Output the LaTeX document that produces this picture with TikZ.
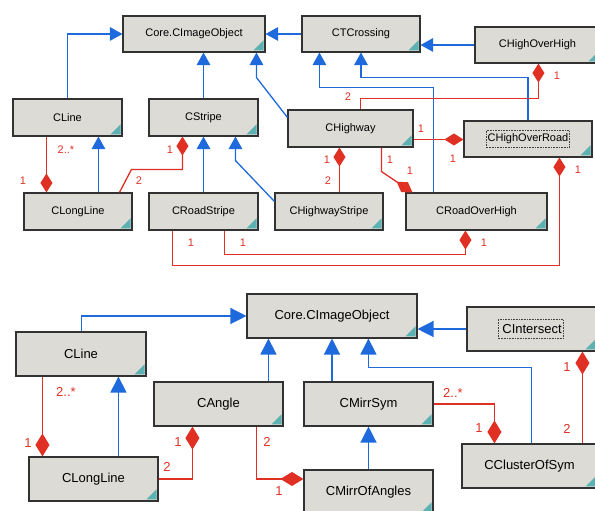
\documentclass[tikz,border=0pt]{standalone}
\usepackage{fontspec}
\setmainfont{Liberation Sans}
\usetikzlibrary{arrows.meta}
\definecolor{umlblue}{RGB}{30,105,220}
\definecolor{umlred}{RGB}{224,48,36}
\definecolor{boxgray}{RGB}{221,219,214}
\definecolor{boxedge}{RGB}{50,50,50}
\definecolor{cornteal}{RGB}{92,178,178}
\tikzset{gen/.style={draw=umlblue, line width=1.3pt, -{Triangle[length=12.5pt,width=13.5pt]}}}
\tikzset{comp/.style={draw=umlred, line width=1.3pt, -{Diamond[length=19pt,width=12pt]}}}

\begin{document}
\begin{tikzpicture}[x=1pt, y=1pt]
\tikzstyle{cls} = [rectangle, draw=boxedge, line width=1.1pt, fill=boxgray, minimum height=37pt, inner sep=2pt, font=\fontsize{11}{13}\selectfont,
  path picture={\fill[cornteal] ([shift={(-1.5pt,1.5pt)}]path picture bounding box.south east) -- ++(-10pt,0pt) -- ++(10pt,10pt) -- cycle;}]
\tikzstyle{mult} = [text=umlred, inner sep=0pt, font=\fontsize{11}{13}\selectfont]
\tikzstyle{focus} = [draw=black!75, densely dotted, line width=0.6pt]

\useasboundingbox (0,0) rectangle (595,511);

% upper diagram
\node [cls, minimum width=142pt, minimum height=36pt] (core) at (194,477) {Core.CImageObject};
\node [cls, minimum width=118pt, minimum height=36pt] (cross) at (361,477) {CTCrossing};
\node [cls, minimum width=125pt, minimum height=36pt] (hoh) at (537.5,466) {CHighOverHigh};
\node [cls, minimum width=109pt] (line) at (67.5,393.5) {CLine};
\node [cls, minimum width=109pt] (stripe) at (203.5,393.5) {CStripe};
\node [cls, minimum width=125pt] (highway) at (350.5,382.5) {CHighway};
\node [cls, minimum width=128pt, minimum height=36pt] (hor) at (528,372) {CHighOverRoad};
\node [cls, minimum width=108pt] (longline) at (78,299.5) {CLongLine};
\node [cls, minimum width=109pt] (roadstripe) at (203.5,299.5) {CRoadStripe};
\node [cls, minimum width=108pt] (hwstripe) at (329,299.5) {CHighwayStripe};
\node [cls, minimum width=141pt] (roh) at (476.5,299.5) {CRoadOverHigh};
\draw [focus] ([shift={(-42pt,-8.5pt)}]hor.center) rectangle ([shift={(41pt,8.5pt)}]hor.center);

% inheritance
\draw [gen] ([xshift=55pt]line.north west) |- (core.west);
\draw [gen] (stripe.north) -- (stripe.north |- core.south);
\draw [gen] ([yshift=-8pt]highway.north west) -- ([xshift=134pt,yshift=-25pt]core.south west) -- ([xshift=134pt]core.south west);
\draw [gen] (cross.west) -- (core.east);
\draw [gen] (hoh.west) -- (hoh.west -| cross.east);
\draw [gen] ([xshift=28pt]roh.north west) |- ([xshift=18pt,yshift=-35pt]cross.south west) -- ([xshift=18pt]cross.south west);
\draw [gen] (hor.north) |- ([yshift=-25pt]cross.south) -- (cross.south);
\draw [gen] ([xshift=75pt]longline.north west) -- ([xshift=75pt]longline.north west |- line.south);
\draw [gen] (roadstripe.north) -- (stripe.south);
\draw [gen] ([yshift=-9pt]hwstripe.north west) -- ([xshift=87pt,yshift=-24pt]stripe.south west) -- ([xshift=87pt]stripe.south west);

% composition
\draw [comp] ([xshift=34pt]line.south west) -- ([xshift=34pt]line.south west |- longline.north);
\node [mult] (m1) at (66,361) {2..*};
\node [mult] (m2) at (23,330) {1};
\draw [comp] ([xshift=96pt]longline.north west) -- ([xshift=108pt,yshift=23pt]longline.north west) -| ([xshift=34pt]stripe.south west);
\node [mult] (m3) at (170,361) {1};
\node [mult] (m4) at (139,330) {2};
\draw [comp] ([xshift=52pt]highway.south west |- hwstripe.north) -- ([xshift=52pt]highway.south west);
\node [mult] (m5) at (327,351) {1};
\node [mult] (m6) at (328,330) {2};
\draw [comp] ([xshift=94pt]highway.south west) -- ([xshift=94pt,yshift=-24pt]highway.south west) -- ([xshift=7pt]roh.north west);
\node [mult] (m7) at (390,351) {1};
\node [mult] (m8) at (410,340) {1};
\draw [comp] ([yshift=-11pt]highway.east) -- ([yshift=-11pt]highway.east -| hor.west);
\node [mult] (m9) at (421,382) {1};
\node [mult] (m10) at (453,352) {1};
\draw [comp] ([xshift=73pt]highway.north west) |- ([xshift=64pt,yshift=-35pt]hoh.south west) -- ([xshift=64pt]hoh.south west);
\node [mult] (m11) at (348,414) {2};
\node [mult] (m12) at (557,435) {1};
\draw [comp] ([xshift=76pt]roadstripe.south west) |- ([xshift=60pt,yshift=-24pt]roh.south west) -- ([xshift=60pt]roh.south west);
\node [mult] (m13) at (243,268) {1};
\node [mult] (m14) at (484,268) {1};
\draw [comp] ([xshift=24pt]roadstripe.south west) |- ([xshift=96pt,yshift=-108pt]hor.south west) -- ([xshift=96pt]hor.south west);
\node [mult] (m15) at (191,268) {1};
\node [mult] (m16) at (578,341) {1};

% lower diagram
\begin{scope}[cls/.append style={minimum height=44pt, font=\fontsize{13}{15}\selectfont},
  mult/.append style={font=\fontsize{13}{15}\selectfont},
  gen/.append style={-{Triangle[length=16pt,width=16pt]}},
  comp/.append style={-{Diamond[length=23pt,width=14pt]}}]
\node [cls, minimum width=170pt] (core2) at (332,195) {Core.CImageObject};
\node [cls, minimum width=130pt] (inter) at (532,182) {CIntersect};
\node [cls, minimum width=130pt] (line2) at (81,157) {CLine};
\node [cls, minimum width=129pt] (angle) at (218.5,107) {CAngle};
\node [cls, minimum width=129pt] (longline2) at (93.5,32) {CLongLine};
\node [cls, minimum width=129pt] (mirr) at (368.5,107) {CMirrSym};
\node [cls, minimum width=129pt] (moa) at (368.5,19) {CMirrOfAngles};
\node [cls, minimum width=135pt] (cluster) at (529.5,45) {CClusterOfSym};
\draw [focus] ([shift={(-34pt,-9.5pt)}]inter.center) rectangle ([shift={(31pt,9.5pt)}]inter.center);

\draw [gen] ([xshift=66pt]line2.north west) |- (core2.west);
\draw [gen] ([xshift=115pt]angle.north west) -- ([xshift=115pt]angle.north west |- core2.south);
\draw [gen] (core2.south |- mirr.north) -- (core2.south);
\draw [gen] ([xshift=70pt]cluster.north west) |- ([xshift=122pt,yshift=-29pt]core2.south west) -- ([xshift=122pt]core2.south west);
\draw [gen] (inter.west) -- (inter.west -| core2.east);
\draw [gen] ([xshift=90pt]longline2.north west) -- ([xshift=90pt]longline2.north west |- line2.south);
\draw [gen] (moa.north) -- (mirr.south);

\draw [comp] ([xshift=27pt]line2.south west) -- ([xshift=27pt]line2.south west |- longline2.north);
\node [mult] (n1) at (66,119) {2..*};
\node [mult] (n2) at (28,68) {1};
\draw [comp] (longline2.east) -| ([xshift=39pt]angle.south west);
\node [mult] (n3) at (178,69) {1};
\node [mult] (n4) at (167,44) {2};
\draw [comp] ([xshift=103pt]angle.south west) |- ([yshift=13pt]moa.west);
\node [mult] (n5) at (267,69) {2};
\node [mult] (n6) at (279,20) {1};
\draw [comp] (mirr.east) -| ([xshift=33pt]cluster.north west);
\node [mult] (n7) at (453,118) {2..*};
\node [mult] (n8) at (479,83) {1};
\draw [comp] ([xshift=121pt]cluster.north west) -- ([xshift=121pt]cluster.north west |- inter.south);
\node [mult] (n9) at (567,144) {1};
\node [mult] (n10) at (567,82) {2};
\end{scope}

\end{tikzpicture}
\end{document}
